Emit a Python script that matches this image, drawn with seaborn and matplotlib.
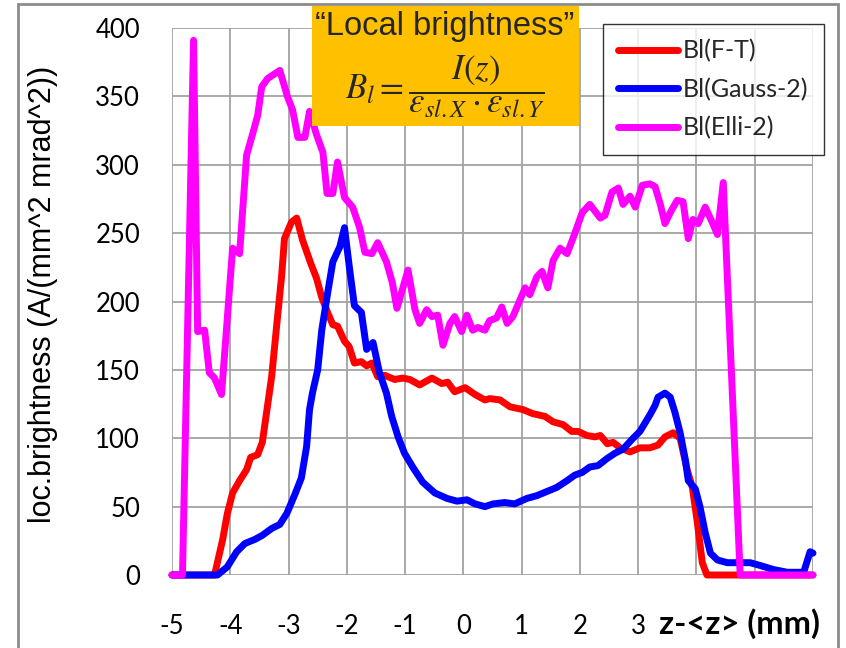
import matplotlib
matplotlib.use("Agg")
import matplotlib.pyplot as plt
import pandas as pd
import seaborn as sns
from matplotlib.patches import Rectangle

# Local brightness profiles along z-<z> (mm), in A/(mm^2 mrad^2)
z_ft = [-5.0, -4.27, -4.13, -4.05, -3.96, -3.84, -3.72, -3.65, -3.53, -3.45, -3.38,
        -3.29, -3.20, -3.12, -3.07, -2.95, -2.86, -2.76, -2.62, -2.52, -2.43, -2.33,
        -2.24, -2.16, -2.04, -1.96, -1.87, -1.75, -1.66, -1.57, -1.47, -1.35, -1.18,
        -1.04, -0.92, -0.75, -0.54, -0.37, -0.27, -0.15, 0.03, 0.20, 0.37, 0.45, 0.63,
        0.80, 1.02, 1.19, 1.40, 1.54, 1.71, 1.86, 1.97, 2.12, 2.26, 2.35, 2.47, 2.57,
        2.69, 2.86, 3.03, 3.20, 3.34, 3.46, 3.60, 3.72, 3.84, 3.93, 4.01, 4.10, 4.18, 6.0]
bl_ft = [0, 0, 26, 45, 60, 69, 77, 86, 88, 97, 118,
         145, 184, 218, 246, 258, 261, 245, 228, 217, 203, 192,
         183, 182, 171, 167, 155, 156, 153, 155, 145, 146, 143,
         144, 143, 139, 144, 140, 141, 134, 137, 132, 128, 129, 128,
         123, 121, 118, 116, 112, 110, 105, 105, 102, 101, 102, 96, 97,
         93, 90, 93, 93, 95, 101, 104, 100, 77, 64, 40, 9, 0, 0]

z_gauss = [-5.0, -4.22, -4.05, -3.89, -3.75, -3.58, -3.45, -3.29, -3.15, -3.03, -2.90,
           -2.78, -2.69, -2.64, -2.59, -2.50, -2.43, -2.33, -2.24, -2.12, -2.04, -1.95,
           -1.87, -1.75, -1.66, -1.55, -1.44, -1.32, -1.23, -1.12, -1.01, -0.87, -0.70,
           -0.49, -0.28, -0.11, 0.06, 0.20, 0.37, 0.51, 0.71, 0.88, 1.09, 1.26, 1.43,
           1.60, 1.78, 1.91, 2.04, 2.17, 2.31, 2.46, 2.60, 2.74, 2.89, 3.03, 3.20, 3.29,
           3.34, 3.46, 3.55, 3.63, 3.72, 3.81, 3.86, 3.98, 4.06, 4.15, 4.24, 4.36, 4.53,
           4.75, 4.92, 5.09, 5.32, 5.56, 5.84, 5.95, 6.0]
bl_gauss = [0, 0, 6, 17, 23, 26, 29, 34, 37, 45, 58,
            71, 94, 121, 133, 150, 179, 206, 229, 240, 254, 223,
            197, 192, 165, 170, 148, 133, 116, 101, 89, 79, 68,
            60, 56, 54, 55, 52, 50, 52, 53, 52, 56, 58, 61,
            64, 69, 73, 75, 79, 80, 85, 89, 92, 99, 105, 117, 124,
            130, 133, 130, 119, 104, 84, 69, 63, 50, 31, 16, 11, 9,
            9, 9, 7, 4, 2, 2, 17, 16]

z_elli = [-5.0, -4.82, -4.63, -4.56, -4.44, -4.36, -4.27, -4.15, -3.96, -3.84, -3.72,
          -3.62, -3.53, -3.46, -3.36, -3.15, -3.02, -2.93, -2.84, -2.72, -2.64, -2.52,
          -2.41, -2.34, -2.24, -2.16, -2.04, -1.90, -1.78, -1.69, -1.57, -1.47, -1.32,
          -1.22, -1.14, -0.95, -0.83, -0.75, -0.63, -0.54, -0.44, -0.35, -0.23, -0.15,
          -0.03, 0.06, 0.16, 0.25, 0.37, 0.45, 0.57, 0.66, 0.75, 0.85, 0.97, 1.06, 1.14,
          1.26, 1.35, 1.45, 1.54, 1.66, 1.78, 1.88, 2.04, 2.17, 2.35, 2.43, 2.55, 2.66,
          2.74, 2.86, 2.95, 3.07, 3.20, 3.29, 3.38, 3.46, 3.55, 3.67, 3.77, 3.86, 3.94,
          4.03, 4.15, 4.27, 4.36, 4.46, 4.75, 6.0]
bl_elli = [0, 0, 391, 178, 179, 148, 144, 132, 239, 235, 307,
           322, 336, 357, 363, 369, 350, 340, 320, 320, 339, 322,
           309, 279, 279, 302, 276, 269, 254, 236, 235, 243, 229,
           214, 195, 223, 194, 184, 194, 189, 190, 168, 184, 189,
           178, 190, 179, 181, 179, 186, 188, 196, 184, 189, 201, 210, 205,
           218, 222, 210, 230, 239, 235, 246, 265, 271, 261, 263, 280, 283,
           271, 277, 269, 285, 286, 284, 271, 257, 265, 274, 273, 246, 260,
           257, 269, 258, 249, 287, 0, 0]

series_names = ["Bl(F-T)", "Bl(Gauss-2)", "Bl(Elli-2)"]
series_colors = ["#ff0000", "#0000ff", "#ff00ff"]
x_ticks = [-5, -4, -3, -2, -1, 0, 1, 2, 3, 4, 5, 6]
x_tick_labels = ["-5", "-4", "-3", "-2", "-1", "0", "1", "2", "3", "", "", ""]
y_ticks = [0, 50, 100, 150, 200, 250, 300, 350, 400]

sns.set_theme(style="white")
plt.rcParams["font.family"] = ["Lato", "DejaVu Sans"]
plt.rcParams["mathtext.fontset"] = "stix"

df = pd.concat(
    [
        pd.DataFrame({"z": z_ft, "Bl": bl_ft, "series": series_names[0]}),
        pd.DataFrame({"z": z_gauss, "Bl": bl_gauss, "series": series_names[1]}),
        pd.DataFrame({"z": z_elli, "Bl": bl_elli, "series": series_names[2]}),
    ],
    ignore_index=True,
)

W, H = 846, 648
fig = plt.figure(figsize=(W / 100, H / 100), dpi=100)
fig.patch.set_facecolor("white")
ax = fig.add_axes([172 / W, (H - 575) / H, (813 - 172) / W, (575 - 28) / H])

sns.lineplot(
    data=df, x="z", y="Bl", hue="series", hue_order=series_names,
    palette=dict(zip(series_names, series_colors)),
    sort=False, estimator=None, linewidth=5.0, ax=ax,
)
for ln in ax.lines:
    ln.set_clip_on(False)
    ln.set_solid_joinstyle("round")
    ln.set_solid_capstyle("round")

grid_col = "#a3a3a3"
ax.set_xlim(-5, 6)
ax.set_ylim(0, 400)
ax.set_xticks(x_ticks)
ax.set_xticklabels(x_tick_labels)
ax.set_yticks(y_ticks)
ax.grid(True, color=grid_col, linewidth=1.3)
ax.set_axisbelow(True)
for sp in ax.spines.values():
    sp.set_visible(False)
ax.tick_params(axis="both", direction="out", length=8, width=1.0, color=grid_col,
               labelsize=18.5, labelcolor="black")
ax.tick_params(axis="x", pad=20)
ax.tick_params(axis="y", pad=15)

ax.set_xlabel("z-<z> (mm)", fontsize=23.5, fontweight="bold", color="black")
ax.xaxis.set_label_coords((739 - 172) / 641, -(608 - 575) / 547)
ax.set_ylabel("loc.brightness (A/(mm^2 mrad^2))", fontsize=22,
              family=["Liberation Sans", "DejaVu Sans"], color="black")
ax.yaxis.set_label_coords((58 - 172) / 641, (575 - 294) / 547)

handles, labels = ax.get_legend_handles_labels()
leg = ax.legend(
    handles, labels, loc="upper right", bbox_to_anchor=(824 / W, 1 - 24 / H),
    bbox_transform=fig.transFigure, frameon=True, fancybox=False,
    edgecolor="black", fontsize=18, handlelength=2.4, handletextpad=0.2,
    labelspacing=0.6, borderpad=0.62, borderaxespad=0,
)
leg.get_frame().set_linewidth(1.0)
for h in leg.get_lines():
    h.set_linewidth(5.0)
    h.set_solid_capstyle("round")

# Figure border and formula box
fig.patches.append(Rectangle((18 / W, -0.05), (838 - 18) / W, 1.05 - 4 / H,
                             transform=fig.transFigure, fill=False,
                             edgecolor="#8c8c8c", linewidth=2.0))
fig.patches.append(Rectangle((312 / W, 1 - 126 / H), (579 - 312) / W, 120 / H,
                             transform=fig.transFigure, facecolor="#ffc000",
                             edgecolor="none", zorder=2))
fig.text(445 / W, 1 - 27 / H, "\u201cLocal brightness\u201d", ha="center", va="center",
         fontsize=23.5, family=["Liberation Sans", "DejaVu Sans"], zorder=3)
fig.text(445 / W, 1 - 87 / H,
         r"$B_l = \dfrac{I(z)}{\varepsilon_{sl.X}\cdot\varepsilon_{sl.Y}}$",
         ha="center", va="center", fontsize=25, zorder=3)

fig.savefig("out.png", dpi=100)
